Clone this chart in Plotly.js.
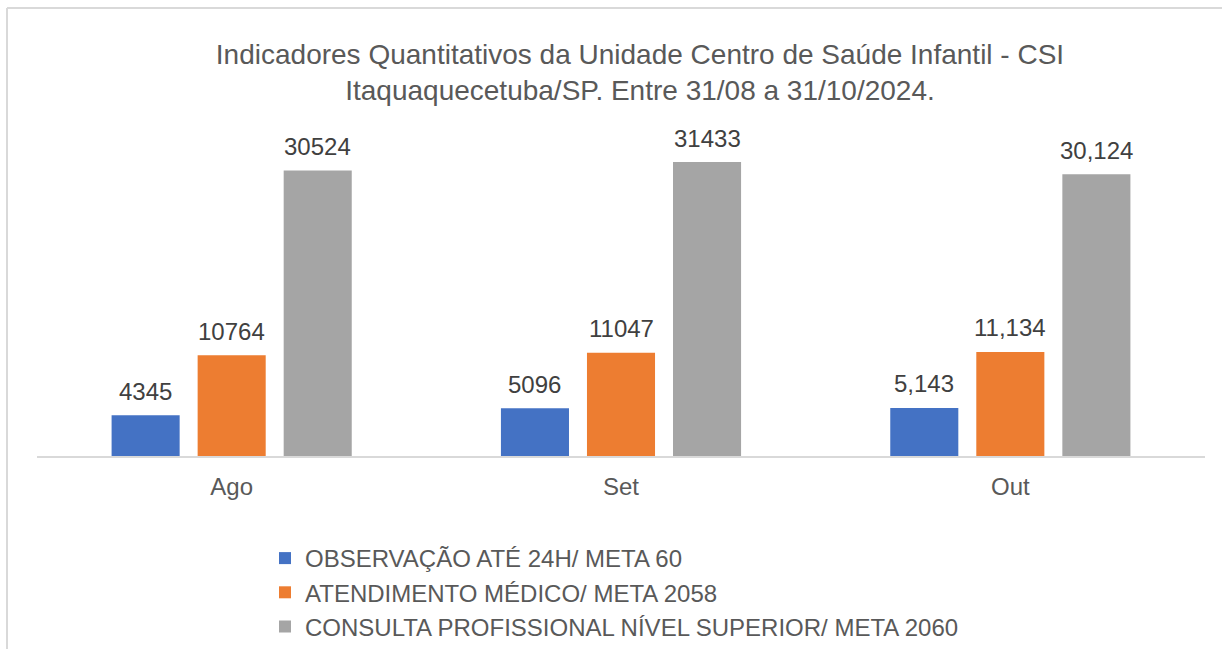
<!DOCTYPE html>
<html>
<head>
<meta charset="utf-8">
<script src="https://cdn.plot.ly/plotly-3.0.1.min.js"></script>
<style>
  html, body { margin: 0; padding: 0; background: #ffffff; }
  #chart { width: 1222px; height: 649px; }
</style>
</head>
<body>
<div id="chart"></div>
<script>
const categories = ["Ago", "Set", "Out"];
const seriesNames = [
  "OBSERVAÇÃO ATÉ 24H/ META 60",
  "ATENDIMENTO MÉDICO/ META 2058",
  "CONSULTA PROFISSIONAL NÍVEL SUPERIOR/ META 2060"
];
const observacao = [4345, 5096, 5143];
const atendimento = [10764, 11047, 11134];
const consulta = [30524, 31433, 30124];
const observacaoLabels = ["4345", "5096", "5,143"];
const atendimentoLabels = ["10764", "11047", "11,134"];
const consultaLabels = ["30524", "31433", "30,124"];
const colors = ["#4472C4", "#ED7D31", "#A5A5A5"];

const W = 1222, H = 649;
const M = { l: 37, r: 17, t: 120, b: 193, autoexpand: false };
const plotW = W - M.l - M.r, plotH = H - M.t - M.b;

const allValues = [observacao, atendimento, consulta];
const allLabels = [observacaoLabels, atendimentoLabels, consultaLabels];

const traces = allValues.map((vals, i) => ({
  type: "bar",
  name: seriesNames[i],
  x: categories,
  y: vals,
  marker: { color: colors[i] },
  hoverinfo: "none"
}));

// data labels as annotations from the data arrays
const slot = plotW / categories.length * (1 - 0.337) / 3;
const annotations = [];
allValues.forEach((vals, i) => {
  vals.forEach((v, j) => {
    annotations.push({
      x: categories[j], y: v, xref: "x", yref: "y",
      xshift: (i - 1) * slot, yshift: 24,
      text: allLabels[i][j], showarrow: false,
      font: { family: "Liberation Sans, Arial, sans-serif", size: 24, color: "#404040" }
    });
  });
});

// chart-area border (top and left), in paper coords
const px2x = p => (p - M.l) / plotW;
const px2y = p => (H - M.b - p) / plotH;
const border = { color: "#D9D9D9", width: 2 };
const shapes = [
  { type: "line", xref: "paper", yref: "paper", x0: px2x(7), x1: px2x(7), y0: px2y(H), y1: px2y(8), line: border },
  { type: "line", xref: "paper", yref: "paper", x0: px2x(7), x1: px2x(W), y0: px2y(8), y1: px2y(8), line: border }
];

const layout = {
  width: W, height: H,
  margin: M,
  paper_bgcolor: "#ffffff", plot_bgcolor: "#ffffff",
  font: { family: "Liberation Sans, Arial, sans-serif", color: "#595959", size: 24 },
  title: {
    text: "Indicadores Quantitativos da Unidade Centro de Saúde Infantil - CSI<br>Itaquaquecetuba/SP. Entre 31/08 a 31/10/2024.",
    font: { size: 28, color: "#595959" },
    x: 640 / W, xref: "container", xanchor: "center",
    y: 1 - 64 / H, yref: "container", yanchor: "top"
  },
  barmode: "group",
  bargap: 0.337,
  bargroupgap: 0.209,
  xaxis: {
    showline: true, linecolor: "#D9D9D9", linewidth: 2,
    showgrid: false, zeroline: false, ticks: "",
    ticklabelstandoff: 8,
    tickfont: { size: 24, color: "#595959" }
  },
  yaxis: {
    range: [0, 35936], visible: false, showgrid: false, zeroline: false
  },
  showlegend: true,
  legend: {
    orientation: "v",
    x: px2x(265), xanchor: "left",
    y: px2y(536), yanchor: "top",
    font: { size: 24, color: "#595959" },
    bgcolor: "rgba(0,0,0,0)"
  },
  annotations: annotations,
  shapes: shapes
};

Plotly.newPlot("chart", traces, layout, { displayModeBar: false, staticPlot: true });
</script>
</body>
</html>
